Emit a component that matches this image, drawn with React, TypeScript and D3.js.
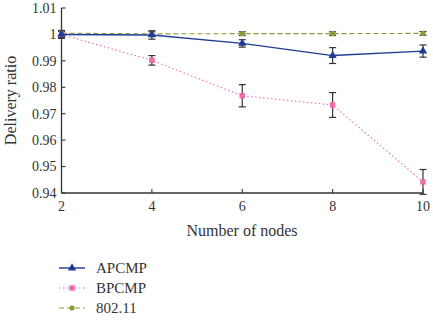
import * as d3 from "d3";

// node counts on the x axis
const nodes = [2, 4, 6, 8, 10];

// delivery ratio per protocol, with symmetric error half-widths
const apcmp = [1.0, 0.9998, 0.9966, 0.992, 0.9937];
const apcmpErr = [0.0015, 0.0016, 0.0014, 0.003, 0.0023];
const bpcmp = [1.0, 0.9902, 0.9768, 0.9733, 0.9442];
const bpcmpErr = [0.0012, 0.0018, 0.0042, 0.0047, 0.0047];
const ieee = [1.0005, 1.0002, 1.0003, 1.0003, 1.0004];
const ieeeErr = [0.0008, 0.0008, 0.0007, 0.0007, 0.0007];

const yTicks = [0.94, 0.95, 0.96, 0.97, 0.98, 0.99, 1, 1.01];

const FONT = "'Liberation Serif', 'DejaVu Serif', serif";

type Series = {
  name: string;
  values: number[];
  err: number[];
  color: string;
  dash: string;
  marker: "triangle" | "square" | "circle";
};

const series: Series[] = [
  { name: "802.11", values: ieee, err: ieeeErr, color: "#8c9a3c", dash: "5,3", marker: "circle" },
  { name: "BPCMP", values: bpcmp, err: bpcmpErr, color: "#ee6aa8", dash: "1.5,2.5", marker: "square" },
  { name: "APCMP", values: apcmp, err: apcmpErr, color: "#1f3c94", dash: "", marker: "triangle" },
];

const legendOrder = ["APCMP", "BPCMP", "802.11"];

function Marker({ kind, x, y, color }: { kind: Series["marker"]; x: number; y: number; color: string }) {
  if (kind === "triangle") {
    const sym = d3.symbol(d3.symbolTriangle, 30)();
    return <path d={sym ?? ""} transform={`translate(${x},${y})`} fill={color} />;
  }
  if (kind === "square") {
    return <rect x={x - 2.7} y={y - 2.7} width={5.4} height={5.4} fill={color} />;
  }
  return <circle cx={x} cy={y} r={2.6} fill={color} />;
}

export default function App() {
  const width = 433;
  const height = 322;
  const x = d3.scaleLinear().domain([2, 10]).range([61.5, 423]);
  const y = d3.scaleLinear().domain([0.94, 1.01]).range([193, 8]);

  const line = (vals: number[]) =>
    d3
      .line<number>()
      .x((_, i) => x(nodes[i]))
      .y((v) => y(v))(vals) ?? "";

  const fmt = (v: number) => (v === 1 ? "1" : d3.format(".2f")(v));

  return (
    <svg
      width={width}
      height={height}
      style={{ position: "absolute", left: 0, top: 0, background: "#fff" }}
      fontFamily={FONT}
    >
      {/* axes */}
      <line x1={x(2)} x2={x(2)} y1={y(1.01)} y2={y(0.94)} stroke="#333" strokeWidth={1.3} />
      <line x1={x(2)} x2={x(10)} y1={y(0.94)} y2={y(0.94)} stroke="#333" strokeWidth={1.3} />
      {yTicks.map((t) => (
        <g key={t}>
          <line x1={x(2)} x2={x(2) + 4} y1={y(t)} y2={y(t)} stroke="#333" strokeWidth={1.1} />
          <text x={x(2) - 5} y={y(t)} dy="0.35em" textAnchor="end" fontSize={14} fill="#333">
            {fmt(t)}
          </text>
        </g>
      ))}
      {nodes.map((n) => (
        <g key={n}>
          <line x1={x(n)} x2={x(n)} y1={y(0.94)} y2={y(0.94) - 4} stroke="#333" strokeWidth={1.1} />
          <text x={x(n)} y={y(0.94) + 18} textAnchor="middle" fontSize={14} fill="#333">
            {n}
          </text>
        </g>
      ))}
      <text x={242} y={236} textAnchor="middle" fontSize={16} fill="#333">
        Number of nodes
      </text>
      <text
        transform={`translate(16,${(y(1.01) + y(0.94)) / 2}) rotate(-90)`}
        textAnchor="middle"
        fontSize={16}
        fill="#333"
      >
        Delivery ratio
      </text>

      {/* series lines */}
      {series.map((s) => (
        <path
          key={s.name}
          d={line(s.values)}
          fill="none"
          stroke={s.color}
          strokeWidth={s.marker === "triangle" ? 1.4 : 1.1}
          strokeDasharray={s.dash || undefined}
        />
      ))}

      {/* error bars */}
      {series.map((s) =>
        s.values.map((v, i) => {
          const cx = x(nodes[i]);
          const top = y(v + s.err[i]);
          const bot = y(v - s.err[i]);
          return (
            <g key={`${s.name}-e${i}`} stroke="#333" strokeWidth={1.2}>
              <line x1={cx} x2={cx} y1={top} y2={bot} />
              <line x1={cx - 3.5} x2={cx + 3.5} y1={top} y2={top} />
              <line x1={cx - 3.5} x2={cx + 3.5} y1={bot} y2={bot} />
            </g>
          );
        })
      )}

      {/* markers */}
      {series.map((s) =>
        s.values.map((v, i) => (
          <Marker key={`${s.name}-m${i}`} kind={s.marker} x={x(nodes[i])} y={y(v)} color={s.color} />
        ))
      )}

      {/* legend */}
      {legendOrder.map((name, i) => {
        const s = series.find((d) => d.name === name)!;
        const ly = 268 + i * 20;
        return (
          <g key={name}>
            <line
              x1={59}
              x2={85}
              y1={ly}
              y2={ly}
              stroke={s.color}
              strokeWidth={s.marker === "triangle" ? 1.4 : 1.1}
              strokeDasharray={s.dash || undefined}
            />
            <Marker kind={s.marker} x={72} y={ly} color={s.color} />
            <text x={96} y={ly} dy="0.35em" fontSize={15} fill="#333">
              {name}
            </text>
          </g>
        );
      })}
    </svg>
  );
}
